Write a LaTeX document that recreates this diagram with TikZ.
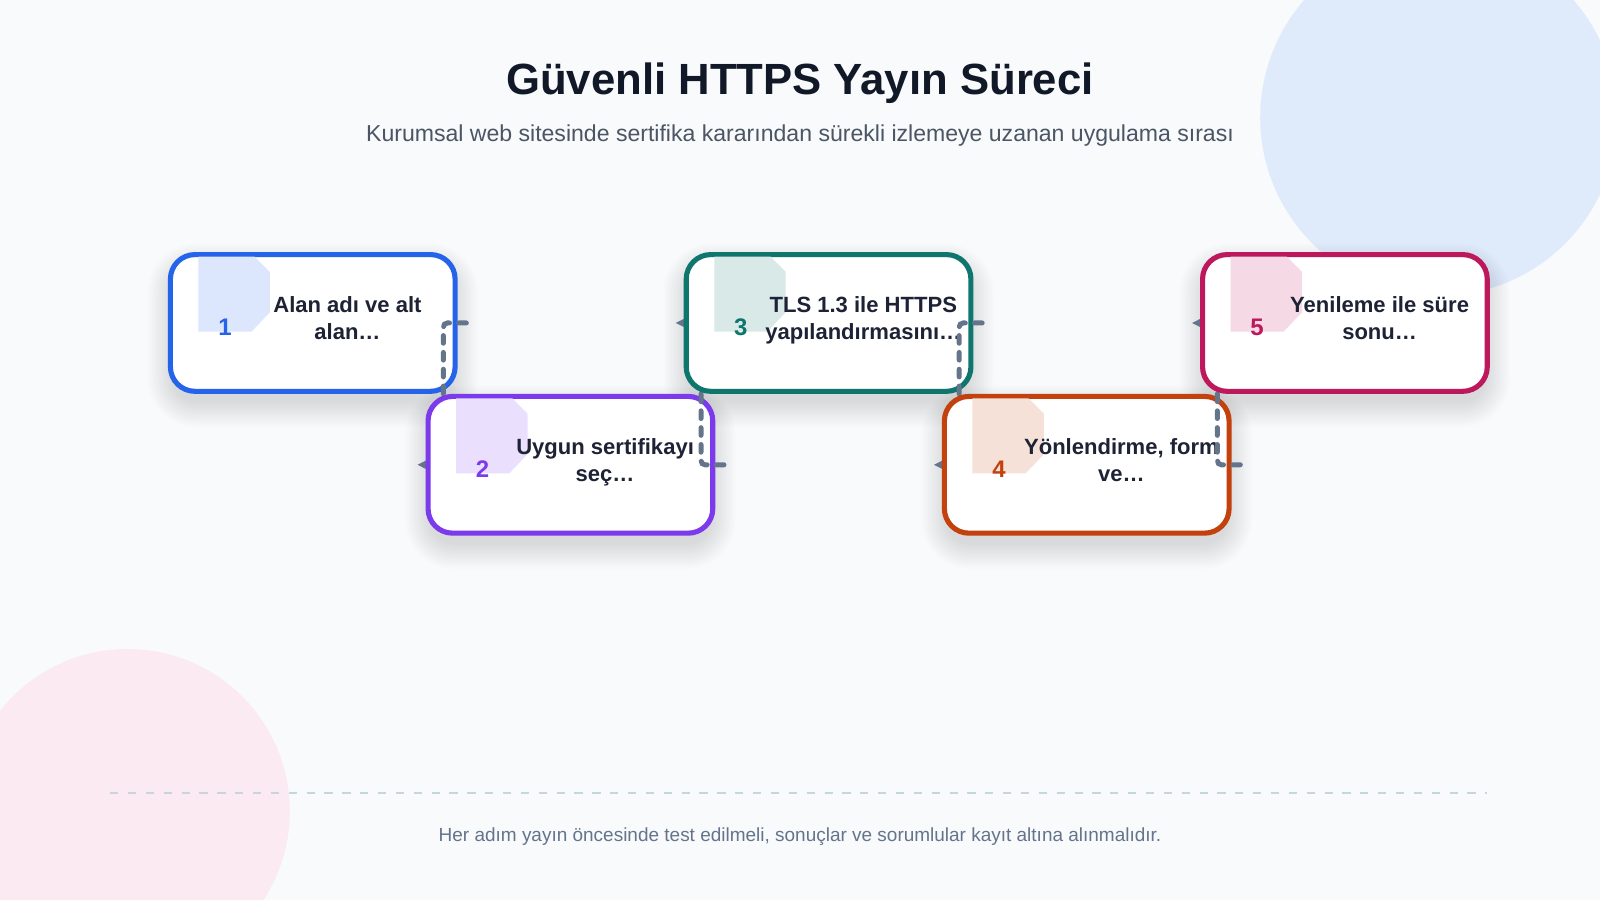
\documentclass[tikz,border=0pt]{standalone}
\usepackage{fontspec}
\setmainfont{Liberation Sans}
\usetikzlibrary{arrows.meta,calc}
\definecolor{bg}{HTML}{F8FAFC}
\definecolor{circblue}{HTML}{DFEBFB}
\definecolor{circpink}{HTML}{FBEAF2}
\definecolor{titlec}{HTML}{111827}
\definecolor{subc}{HTML}{4B5563}
\definecolor{footc}{HTML}{64748B}
\definecolor{textc}{HTML}{1E2235}
\definecolor{slate}{HTML}{64748B}
\definecolor{rulec}{HTML}{C6D7DC}
\definecolor{cblue}{HTML}{2563EB}
\definecolor{cpurple}{HTML}{7C3AED}
\definecolor{cteal}{HTML}{0F766E}
\definecolor{corange}{HTML}{C2410C}
\definecolor{cpink}{HTML}{BE185D}
\newcommand{\mycard}[4]{%
  \node[card=#3] (#1) at (#2) {};
  \fill[#3!16!white] ($(#1.center)+(-112,-65)$) -- ++(55,0) -- ++(15,15) -- ++(0,39.5) -- ++(-18,19) -- ++(-52,0) -- cycle;
  \node[numlab, text=#3] (#1n) at ($(#1.center)+(-86,12)$) {#4};
}
\begin{document}
\begin{tikzpicture}[x=1pt,y=-1pt,
  card/.style={draw=#1, line width=5pt, fill=white, rounded corners=24pt,
    minimum width=279pt, minimum height=134pt, inner sep=0pt},
  numlab/.style={anchor=base, inner sep=0pt, font=\fontsize{23.5}{27}\selectfont\bfseries},
  lab/.style={anchor=base, inner sep=0pt, text=textc, font=\fontsize{21.6}{26}\selectfont\bfseries},
  conn/.style={draw=slate, line width=4.9pt, dash pattern=on 7.5pt off 9pt, line cap=round,
    rounded corners=4pt, -{Triangle[length=10pt,width=9pt]}},
  shadowbox/.style={fill=black, opacity=0.0065}
]
\useasboundingbox (0,0) rectangle (1568,882);
\fill[bg] (0,0) rectangle (1568,882);
\begin{scope}
  \clip (0,0) rectangle (1568,882);
  \fill[circblue] (1410,115) circle[radius=175pt];
  \fill[circpink] (125,795) circle[radius=159pt];
\end{scope}

% title
\node[anchor=base, inner sep=0pt, text=titlec, font=\fontsize{42.8}{50}\selectfont\bfseries] (title) at (784,93) {Güvenli HTTPS Yayın Süreci};
\node[anchor=base, inner sep=0pt, text=subc, font=\fontsize{22.6}{27}\selectfont] (subtitle) at (784,139) {Kurumsal web sitesinde sertifika kararından sürekli izlemeye uzanan uygulama sırası};

% shadows
\foreach \cx/\cy in {306.5/316.5, 559/455.5, 812/316.5, 1065/455.5, 1318/316.5} {
  \foreach \k in {0,...,15} {
    \pgfmathsetmacro{\rr}{24+1.6*\k}
    \fill[shadowbox, rounded corners=\rr pt] (\cx-138-1.6*\k, \cy-66+12-1.6*\k) rectangle (\cx+138+1.6*\k, \cy+66+12+1.6*\k);
  }
}

% card 1
\mycard{b1}{306.5,316.5}{cblue}{1}
\node[lab] (b1a) at ($(b1.center)+(34,-10)$) {Alan adı ve alt};
\node[lab] (b1b) at ($(b1.center)+(34,16.7)$) {alan…};

% connector 1 -> 2 (drawn before card 2 so card 2 covers its end)
\coordinate (b2w) at (419.5,455.5);
\coordinate (s12) at ($(b1.east)+(8.5,0)$);
\coordinate (v12) at ($(b1.east)+(-14,0)$);
\coordinate (e12) at ($(b2w)+(-10.5,0)$);
\draw[conn] (s12) -- (v12) |- (e12);

% card 2
\mycard{b2}{559,455.5}{cpurple}{2}
\node[lab] (b2a) at ($(b2.center)+(34,-10)$) {Uygun sertifikayı};
\node[lab] (b2b) at ($(b2.center)+(34,16.7)$) {seç…};

% connector 2 -> 3
\coordinate (b3w) at (672.5,316.5);
\coordinate (s23) at ($(b2.east)+(8.5,0)$);
\coordinate (v23) at ($(b2.east)+(-14,0)$);
\coordinate (e23) at ($(b3w)+(-10.5,0)$);
\draw[conn] (s23) -- (v23) |- (e23);

% card 3
\mycard{b3}{812,316.5}{cteal}{3}
\node[lab] (b3a) at ($(b3.center)+(34,-10)$) {TLS 1.3 ile HTTPS};
\node[lab] (b3b) at ($(b3.center)+(34,16.7)$) {yapılandırmasını…};

% connector 3 -> 4
\coordinate (b4w) at (925.5,455.5);
\coordinate (s34) at ($(b3.east)+(8.5,0)$);
\coordinate (v34) at ($(b3.east)+(-14,0)$);
\coordinate (e34) at ($(b4w)+(-10.5,0)$);
\draw[conn] (s34) -- (v34) |- (e34);

% card 4
\mycard{b4}{1065,455.5}{corange}{4}
\node[lab] (b4a) at ($(b4.center)+(34,-10)$) {Yönlendirme, form};
\node[lab] (b4b) at ($(b4.center)+(34,16.7)$) {ve…};

% connector 4 -> 5
\coordinate (b5w) at (1178.5,316.5);
\coordinate (s45) at ($(b4.east)+(8.5,0)$);
\coordinate (v45) at ($(b4.east)+(-14,0)$);
\coordinate (e45) at ($(b5w)+(-10.5,0)$);
\draw[conn] (s45) -- (v45) |- (e45);

% card 5
\mycard{b5}{1318,316.5}{cpink}{5}
\node[lab] (b5a) at ($(b5.center)+(34,-10)$) {Yenileme ile süre};
\node[lab] (b5b) at ($(b5.center)+(34,16.7)$) {sonu…};

% footer
\coordinate (rl) at (108,777);
\coordinate (rr) at (1457,777);
\draw[rulec, line width=1.5pt, dash pattern=on 8pt off 9.5pt] (rl) -- (rr);
\node[anchor=base, inner sep=0pt, text=footc, font=\fontsize{18.6}{23}\selectfont] (footer) at (784,825) {Her adım yayın öncesinde test edilmeli, sonuçlar ve sorumlular kayıt altına alınmalıdır.};
\end{tikzpicture}
\end{document}
